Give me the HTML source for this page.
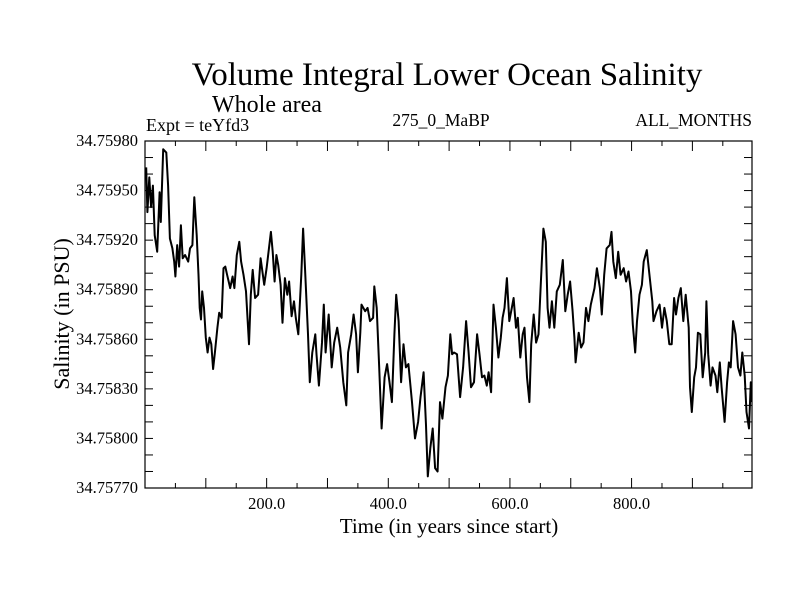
<!DOCTYPE html>
<html><head><meta charset="utf-8"><style>
body{margin:0;background:#fff;}
svg{display:block;font-family:"Liberation Serif",serif;}
</style></head><body>
<svg width="800" height="600" viewBox="0 0 800 600">
<rect width="800" height="600" fill="#fff"/>
<text x="447" y="85" font-size="33" text-anchor="middle">Volume Integral Lower Ocean Salinity</text>
<text x="212" y="112" font-size="24">Whole area</text>
<text x="146" y="131" font-size="18">Expt = teYfd3</text>
<text x="441" y="126" font-size="17.5" text-anchor="middle">275_0_MaBP</text>
<text x="752" y="126" font-size="17.5" text-anchor="end">ALL_MONTHS</text>
<text transform="translate(69,314) rotate(-90)" font-size="22" text-anchor="middle">Salinity (in PSU)</text>
<text x="449" y="533" font-size="21" text-anchor="middle">Time (in years since start)</text>
<g id="ticks"></g>
<g id="series"></g>
<rect x="145" y="141" width="607" height="347" fill="none" stroke="#000" stroke-width="1.2"/>
</svg>
<script>
const years=[2,4,7,10,13,16,20,24,26,30,35,38,41,45,48,50,53,56,59,62,66,71,74,78,81,85,88,90,92,94,97,100,103,106,109,112,115,119,122,126,129,132,135,140,144,147,151,155,158,162,166,171,174,177,181,186,190,196,200,207,210,213,216,219,223,226,230,234,237,241,245,248,252,257,260,263,268,271,275,280,282,286,291,294,297,302,307,311,316,321,326,331,334,339,343,347,350,354,356,362,366,370,375,377,381,385,389,394,398,402,406,410,413,417,421,425,429,433,439,444,449,453,458,462,465,469,473,477,481,485,489,494,498,502,505,508,513,518,523,528,532,536,541,546,550,554,558,562,565,569,573,577,581,585,588,591,595,599,603,606,610,613,617,621,624,628,632,635,639,643,647,651,655,659,662,665,669,673,677,682,687,691,695,699,703,706,708,713,717,721,725,729,733,739,743,748,751,755,759,764,767,770,774,778,782,787,791,795,799,802,806,809,813,817,820,825,830,834,836,841,846,850,854,858,862,866,870,873,877,881,885,889,894,896,899,903,906,909,913,917,921,923,926,930,933,938,941,945,948,953,957,960,963,967,971,975,979,982,986,989,993,996,997];
const salinity=[34.75964,34.75937,34.75958,34.7594,34.75953,34.75923,34.75913,34.75949,34.75931,34.75975,34.75973,34.75953,34.75921,34.75915,34.75907,34.75898,34.75917,34.75904,34.75929,34.75909,34.75911,34.75907,34.75915,34.75917,34.75946,34.75923,34.75899,34.75879,34.75872,34.75889,34.75879,34.75861,34.75852,34.75861,34.75857,34.75842,34.75852,34.75867,34.75876,34.75873,34.75903,34.75904,34.75899,34.75891,34.75898,34.75891,34.75911,34.75919,34.75907,34.75899,34.75889,34.75857,34.75887,34.75902,34.75885,34.75887,34.75909,34.75893,34.75903,34.75925,34.75913,34.75895,34.75911,34.75905,34.75893,34.7587,34.75897,34.75887,34.75895,34.75874,34.75883,34.75873,34.75863,34.75899,34.75927,34.75903,34.75863,34.75834,34.75852,34.75863,34.75851,34.75832,34.75858,34.75881,34.75852,34.75875,34.75843,34.75858,34.75867,34.75855,34.75834,34.7582,34.75852,34.75863,34.75875,34.75863,34.7584,34.75864,34.75881,34.75877,34.75879,34.75871,34.75873,34.75892,34.75879,34.75843,34.75806,34.75837,34.75845,34.75834,34.75822,34.75863,34.75887,34.75871,34.75834,34.75857,34.75843,34.75845,34.75822,34.758,34.7581,34.75825,34.7584,34.75808,34.75777,34.75794,34.75806,34.75782,34.7578,34.75822,34.75812,34.75831,34.75838,34.75863,34.75851,34.75852,34.75851,34.75825,34.75843,34.75871,34.75852,34.75831,34.75834,34.75863,34.75851,34.75837,34.75838,34.75832,34.7584,34.75828,34.75881,34.75867,34.75849,34.75861,34.75873,34.75879,34.75897,34.75871,34.75879,34.75885,34.75867,34.75873,34.75849,34.75863,34.75867,34.75837,34.75822,34.75857,34.75875,34.75858,34.75863,34.75895,34.75927,34.75919,34.75879,34.75867,34.75883,34.75867,34.75889,34.75893,34.75908,34.75877,34.75887,34.75895,34.75877,34.75861,34.75846,34.75864,34.75855,34.75858,34.75879,34.75871,34.75881,34.75891,34.75903,34.75891,34.75875,34.75899,34.75915,34.75917,34.75925,34.75907,34.75897,34.75913,34.75899,34.75903,34.75895,34.75901,34.75889,34.75869,34.75852,34.75871,34.75887,34.75893,34.75907,34.75914,34.75897,34.75883,34.75871,34.75877,34.75881,34.75867,34.75879,34.75871,34.75857,34.75857,34.75885,34.75875,34.75885,34.75891,34.75871,34.75887,34.75867,34.75831,34.75816,34.75837,34.75843,34.75864,34.75863,34.75837,34.75852,34.75883,34.75851,34.75832,34.75843,34.75838,34.75828,34.75846,34.75831,34.7581,34.75834,34.75846,34.75843,34.75871,34.75863,34.75843,34.75838,34.75852,34.75838,34.75816,34.75806,34.75834,34.75822];
const yTickLabels=["34.75980","34.75950","34.75920","34.75890","34.75860","34.75830","34.75800","34.75770"];
const xTickLabels=["200.0","400.0","600.0","800.0"];
const NS="http://www.w3.org/2000/svg";
const L=145,R=752,T=141,B=488,X0=0,X1=998,Y0=34.7577,Y1=34.7598;
function xs(v){return L+(v-X0)/(X1-X0)*(R-L);}
function ys(v){return B-(v-Y0)/(Y1-Y0)*(B-T);}
const tg=document.getElementById('ticks');
function line(x1,y1,x2,y2,name){const l=document.createElementNS(NS,'line');l.setAttribute('x1',x1);l.setAttribute('y1',y1);l.setAttribute('x2',x2);l.setAttribute('y2',y2);l.setAttribute('stroke','#000');l.setAttribute('stroke-width','1');


tg.appendChild(l);}
function txt(x,y,s,anchor,name){const t=document.createElementNS(NS,'text');t.setAttribute('x',x);t.setAttribute('y',y);t.setAttribute('font-size','16.5');t.setAttribute('text-anchor',anchor);t.textContent=s;


tg.appendChild(t);}
for(let i=0;i<=21;i++){const v=Y0+i*0.0001;const y=ys(v);line(L,y,L+8,y,'y-tick');line(R,y,R-8,y,'y-tick-right');}
yTickLabels.forEach(s=>{const y=ys(parseFloat(s));txt(138,y+5,s,'end','y-tick-label');});
for(let v=50;v<X1;v+=50){const x=xs(v);const len=(v%100===0)?10:5;line(x,B,x,B-len,'x-tick');line(x,T,x,T+len,'x-tick-top');}
xTickLabels.forEach(s=>{const x=xs(parseFloat(s));txt(x,509,s,'middle','x-tick-label');});
const p=document.createElementNS(NS,'polyline');
p.setAttribute('points',years.map((yr,i)=>xs(yr).toFixed(1)+','+ys(salinity[i]).toFixed(1)).join(' '));
p.setAttribute('fill','none');p.setAttribute('stroke','#000');p.setAttribute('stroke-width','2');p.setAttribute('stroke-linejoin','round');


document.getElementById('series').appendChild(p);
</script>
</body></html>
